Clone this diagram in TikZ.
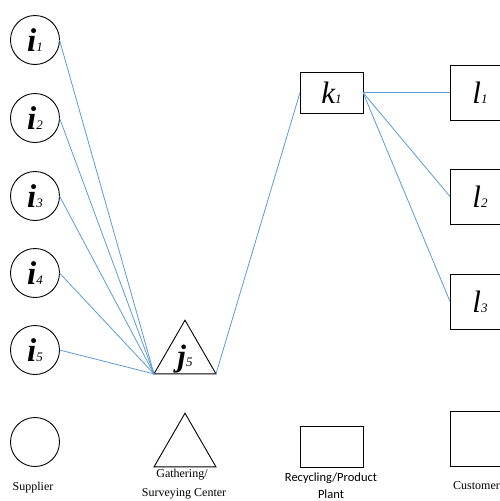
\documentclass[tikz,border=0pt]{standalone}
\usepackage{fontspec}
\setmainfont{Liberation Serif}
\newfontfamily\calib{Carlito}
\usetikzlibrary{shapes.geometric}
\definecolor{linkblue}{RGB}{91,155,213}
\newcommand{\bigI}[1]{{\fontsize{33}{33}\selectfont\bfseries\itshape i}{\fontsize{13}{13}\selectfont\itshape #1}}
\newcommand{\bigJ}[1]{{\fontsize{31}{31}\selectfont\bfseries\itshape j}{\fontsize{13}{13}\selectfont\itshape #1}}
\newcommand{\bigK}[1]{{\fontsize{31}{31}\selectfont\itshape k}{\fontsize{13}{13}\selectfont\itshape #1}}
\newcommand{\bigL}[1]{{\fontsize{31}{31}\selectfont\itshape l}{\fontsize{13}{13}\selectfont\itshape #1}}
\tikzset{
  supplier/.style={circle,draw,line width=0.9pt,minimum size=49pt,inner sep=0pt,outer sep=0pt},
  center/.style={regular polygon,regular polygon sides=3,draw,line width=0.9pt,minimum size=71.6pt,inner sep=0pt,outer sep=0pt},
  plant/.style={rectangle,draw,line width=0.9pt,minimum width=63pt,minimum height=41pt,inner sep=0pt,outer sep=0pt},
  customer/.style={rectangle,draw,line width=0.9pt,minimum width=60pt,minimum height=55pt,inner sep=0pt,outer sep=0pt},
  link/.style={draw=linkblue,line width=0.8pt},
  caption/.style={font=\fontsize{12}{12}\selectfont,inner sep=0pt},
  captionsans/.style={font=\calib\fontsize{12.5}{12.5}\selectfont,inner sep=0pt}
}
\begin{document}
\begin{tikzpicture}[x=1pt,y=-1pt]
\useasboundingbox (0,0) rectangle (500,501);

% suppliers
\node[supplier] (i1) at (35,40)  {\bigI{1}};
\node[supplier] (i2) at (35,118) {\bigI{2}};
\node[supplier] (i3) at (35,196) {\bigI{3}};
\node[supplier] (i4) at (35,273) {\bigI{4}};
\node[supplier] (i5) at (35,350) {\bigI{5}};

% gathering / surveying center
\node[center] (j5) at (185,356) {};
\node[inner sep=0pt] (j5text) at (185,359) {\bigJ{5}};

% recycling / product plant
\node[plant] (k1) at (331.5,92.5) {\bigK{1}};

% customers
\node[customer] (l1) at (480,92.5)  {\bigL{1}};
\node[customer] (l2) at (480,196.5) {\bigL{2}};
\node[customer] (l3) at (480,301.5) {\bigL{3}};

% connections
\foreach \s in {1,...,5}
  \draw[link] (i\s.east) -- (j5.corner 2);
\draw[link] (j5.corner 3) -- (k1.west);
\foreach \c in {1,2,3}
  \draw[link] (k1.east) -- (l\c.west);

% legend
\node[supplier] (legsup) at (35,442) {};
\node[caption] (legsuptext) at (33,488) {Supplier};

\node[center] (legcen) at (185,449) {};
\node[caption] (legcentext1) at (182,475) {Gathering/};
\node[caption] (legcentext2) at (184,494) {Surveying Center};

\node[plant] (legplant) at (331.5,446.5) {};
\node[captionsans] (legplanttext1) at (331,478) {Recycling/Product};
\node[captionsans] (legplanttext2) at (331,494) {Plant};

\node[customer] (legcus) at (480,439) {};
\node[caption,anchor=west] (legcustext) at (453,486) {Customer};
\end{tikzpicture}
\end{document}
